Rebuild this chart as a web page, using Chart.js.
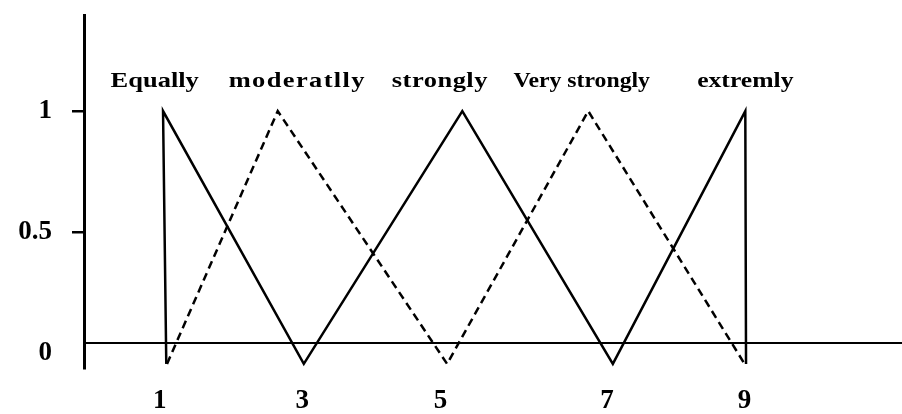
<!DOCTYPE html>
<html>
<head>
<script src="https://cdn.jsdelivr.net/npm/chart.js@4/dist/chart.umd.min.js"></script>
<style>
  body {margin: 0; background: #fff;}
</style>
</head>
<body>
<canvas id="fuzzy" width="902" height="414"></canvas>
<script>

// tick values and labels (x ticks sit where the labels are in the picture)
var xTickPos = [0.90, 2.87, 4.78, 7.08, 8.98];
var xTickLabels = ['1', '3', '5', '7', '9'];
var yTicks = [0, 0.5, 1];

// solid triangles (Equally, strongly, extremly)
var solidX = [0.99, 0.945, 2.89, 5.08, 7.16, 8.99, 9.0];
var solidY = [-0.045, 1, -0.045, 1, -0.045, 1, -0.045];

// dashed triangles (moderatlly, Very strongly)
var dashX = [1.0, 2.53, 4.87, 6.82, 8.98];
var dashY = [-0.045, 1, -0.045, 1, -0.045];

// horizontal base line
var baseX = [-0.147, 11.155];
var baseY = [0.041, 0.041];

// names above the peaks
var termNames = ['Equally', 'moderatlly', 'strongly', 'Very strongly', 'extremly'];
var termX = [0.83, 2.80, 4.77, 6.73, 8.99];
var termY = 1.12;

function pts(xs, ys) {
  return xs.map(function(x, i) { return {x: x, y: ys[i]}; });
}

var FONT = '"Liberation Serif", "Times New Roman", serif';
// font size / horizontal stretch / letter spacing for each term label
var termStyle = [[21, 1.26, 0], [21, 1.26, 1.1], [21, 1.26, 0.4], [21, 1.13, 0], [21, 1.22, 0]];

//writes the linguistic terms over each peak (the picture's text is stretched sideways)
var termLabels = {
  id: 'termLabels',
  afterDatasetsDraw: function(chart) {
    var ctx = chart.ctx;
    var xs = chart.scales.x, ys = chart.scales.y;
    termNames.forEach(function(name, i) {
      ctx.save();
      ctx.fillStyle = '#000';
      ctx.textAlign = 'center';
      ctx.textBaseline = 'middle';
      ctx.font = 'bold ' + termStyle[i][0] + 'px ' + FONT;
      ctx.letterSpacing = termStyle[i][2] + 'px';
      ctx.translate(xs.getPixelForValue(termX[i]), ys.getPixelForValue(termY));
      ctx.scale(termStyle[i][1], 1);
      ctx.fillText(name, 0, 0);
      ctx.restore();
    });
  }
};

new Chart(document.getElementById('fuzzy'), {
  type: 'line',
  data: {
    datasets: [{
      data: pts(solidX, solidY),
      borderColor: '#000',
      borderWidth: 2.5,
      pointRadius: 0,
      fill: false
    }, {
      data: pts(dashX, dashY),
      borderColor: '#000',
      borderWidth: 2.5,
      borderDash: [8, 5],
      pointRadius: 0,
      fill: false
    }, {
      data: pts(baseX, baseY),
      borderColor: '#000',
      borderWidth: 2,
      pointRadius: 0,
      fill: false
    }]
  },
  options: {
    responsive: false,
    animation: false,
    layout: {padding: {top: 15, right: 0, bottom: 0, left: 0}},
    plugins: {legend: {display: false}, tooltip: {enabled: false}},
    scales: {
      x: {
        type: 'linear',
        min: -0.147,
        max: 11.155,
        afterBuildTicks: function(scale) {
          scale.ticks = xTickPos.map(function(v) { return {value: v}; });
        },
        afterFit: function(scale) {
          scale.height = 46;
          scale.paddingLeft = 0;
          scale.paddingRight = 0;
        },
        grid: {display: false, drawTicks: false},
        border: {display: false},
        ticks: {
          padding: 17,
          color: '#000',
          font: {family: FONT, size: 27, weight: 'bold'},
          maxRotation: 0,
          autoSkip: false,
          callback: function(v, i) { return xTickLabels[i]; }
        }
      },
      y: {
        type: 'linear',
        min: -0.062,
        max: 1.397,
        afterBuildTicks: function(scale) {
          scale.ticks = yTicks.map(function(v) { return {value: v}; });
        },
        afterFit: function(scale) {
          scale.width = 84;
          scale.paddingTop = 0;
          scale.paddingBottom = 0;
        },
        grid: {
          drawOnChartArea: false,
          tickLength: 12,
          lineWidth: 2.5,
          tickColor: function(c) { return c.tick && c.tick.value === 0 ? 'rgba(0,0,0,0)' : '#000'; }
        },
        border: {display: true, color: '#000', width: 3},
        ticks: {
          padding: 20,
          color: '#000',
          font: {family: FONT, size: 27, weight: 'bold'},
          callback: function(v) { return String(v); }
        }
      }
    }
  },
  plugins: [termLabels]
});

</script>
</body>
</html>
